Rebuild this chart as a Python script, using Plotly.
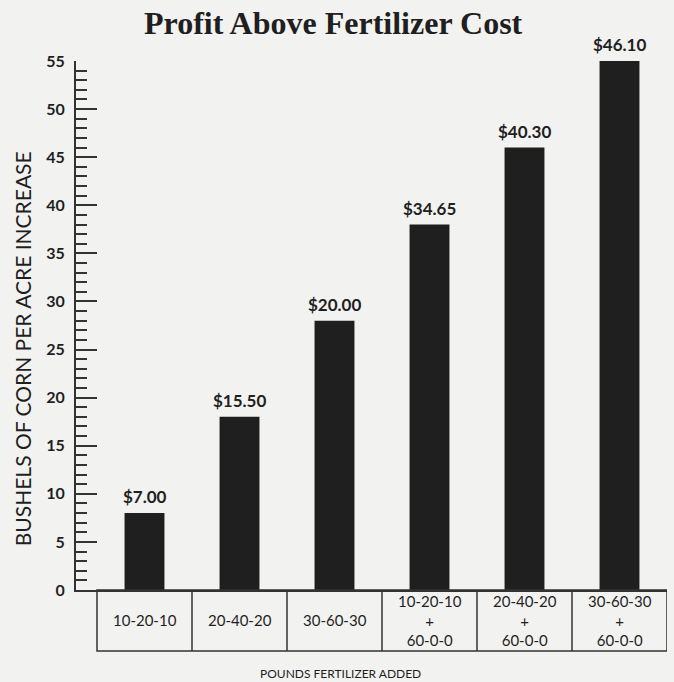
import plotly.graph_objects as go

categories = ["10-20-10", "20-40-20", "30-60-30",
              "10-20-10<br>+<br>60-0-0", "20-40-20<br>+<br>60-0-0", "30-60-30<br>+<br>60-0-0"]
bushels = [8, 18, 28, 38, 46, 55]
profit_labels = ["$7.00", "$15.50", "$20.00", "$34.65", "$40.30", "$46.10"]
y_ticks = list(range(0, 56, 5))

INK = "#1f1f1f"
BG = "#f2f2f0"
FONT = "Lato"

xs = list(range(len(categories)))

fig = go.Figure()
fig.add_trace(go.Bar(
    x=xs, y=bushels, width=0.42,
    marker=dict(color=INK, line=dict(width=0)),
    cliponaxis=False, hoverinfo="skip",
))

ann = []
for i, (v, t) in enumerate(zip(bushels, profit_labels)):
    ann.append(dict(x=i, y=v, xref="x", yref="y", text=t, showarrow=False,
                    yanchor="bottom", yshift=4,
                    font=dict(family=FONT, size=17, color=INK, weight="bold")))

# table cells under axis
table_bottom = -0.1153
table_mid = table_bottom / 2
for i, c in enumerate(categories):
    ann.append(dict(x=i, y=table_mid, xref="x", yref="paper", text=c, showarrow=False,
                    yanchor="middle", font=dict(family=FONT, size=15, color=INK)))

shapes = [dict(type="rect", xref="x", yref="paper", x0=-0.5, x1=len(categories) - 0.5,
               y0=table_bottom, y1=0, line=dict(color="#333", width=1.5))]
for i in range(1, len(categories)):
    shapes.append(dict(type="line", xref="x", yref="paper", x0=i - 0.5, x1=i - 0.5,
                       y0=table_bottom, y1=0, line=dict(color="#333", width=1.5)))

ann.append(dict(x=0.447, y=-0.157, xref="paper", yref="paper", text="POUNDS FERTILIZER ADDED",
                showarrow=False, yanchor="middle",
                font=dict(family=FONT, size=12, color=INK)))
ann.append(dict(x=-0.0914, y=0.457, xref="paper", yref="paper",
                text="BUSHELS OF CORN PER ACRE INCREASE", textangle=-90,
                showarrow=False, xanchor="center", yanchor="middle",
                font=dict(family=FONT, size=21, color=INK)))
ann.append(dict(x=0.435, y=1.072, xref="paper", yref="paper",
                text="<b>Profit Above Fertilizer Cost</b>",
                showarrow=False, xanchor="center", yanchor="middle",
                font=dict(family="Liberation Serif", size=32, color=INK)))

fig.update_layout(
    width=674, height=682,
    margin=dict(l=76, r=7, t=61, b=92),
    paper_bgcolor=BG, plot_bgcolor=BG,
    showlegend=False,
    annotations=ann, shapes=shapes,
    xaxis=dict(range=[-0.721, 5.5], showticklabels=False, ticks="", showgrid=False,
               zeroline=False, showline=True, linecolor="#333", linewidth=2, fixedrange=True),
    yaxis=dict(range=[0, 55], tickvals=y_ticks, ticks="inside", ticklen=21, tickwidth=2,
               tickcolor="#333", showgrid=False, zeroline=False, showline=True,
               linecolor="#333", linewidth=2, ticklabelstandoff=6,
               tickfont=dict(family=FONT, size=16, color=INK, weight="bold"),
               minor=dict(dtick=1, ticks="inside", ticklen=11, tickwidth=1.5, tickcolor="#333",
                          showgrid=False)),
)

fig.write_html("out.html", config={"displayModeBar": False},
               post_script="document.body.style.margin='0';")
